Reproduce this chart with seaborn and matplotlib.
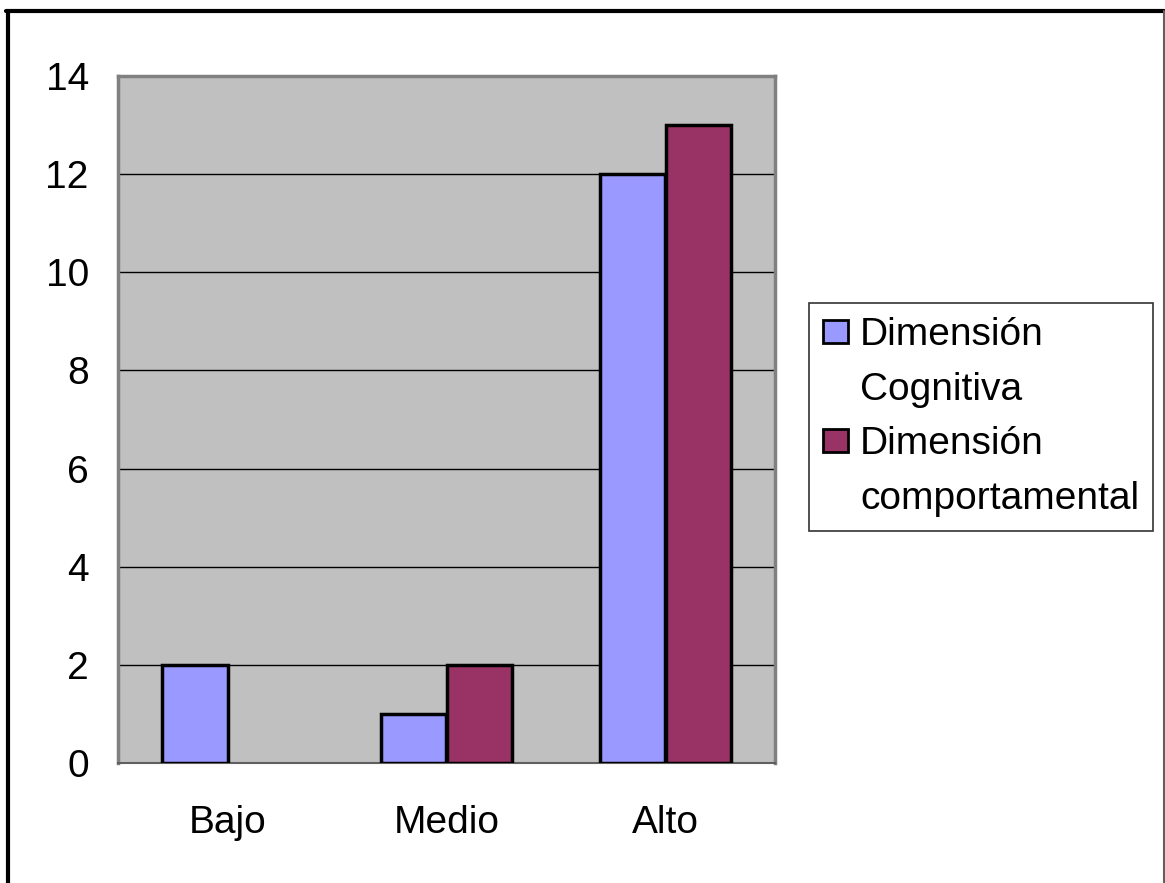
import pandas as pd
import matplotlib.pyplot as plt
import seaborn as sns
from matplotlib.lines import Line2D
from matplotlib.patches import Patch

# Datos del gráfico
niveles = ["Bajo", "Medio", "Alto"]
cognitiva = [2, 1, 12]
comportamental = [0, 2, 13]
series = ["Dimensión Cognitiva", "Dimensión comportamental"]
colores = ["#9999FF", "#993366"]

df = pd.DataFrame({
    "Nivel": niveles * 2,
    "Valor": cognitiva + comportamental,
    "Serie": [series[0]] * 3 + [series[1]] * 3,
})

sns.set_style("white")
plt.rcParams["font.family"] = ["Liberation Sans", "DejaVu Sans"]
plt.rcParams["text.color"] = "black"
plt.rcParams["xtick.color"] = "black"
plt.rcParams["ytick.color"] = "black"

fig = plt.figure(figsize=(11.65, 8.83), dpi=100)
ax = fig.add_axes([118 / 1165, 1 - 763 / 883, 657 / 1165, 687 / 883])

sns.barplot(
    data=df, x="Nivel", y="Valor", hue="Serie",
    palette=colores, width=0.6, edgecolor="black", linewidth=2.5,
    saturation=1, ax=ax, zorder=3, legend=False,
)

# ocultar barras de altura cero
for p in ax.patches:
    if p.get_height() == 0:
        p.set_visible(False)

ax.set_facecolor("#C0C0C0")
ax.set_ylim(0, 14)
ax.set_xlim(-0.5, 2.5)
ax.set_yticks(range(0, 15, 2))
ax.yaxis.grid(True, color="black", linewidth=1, zorder=1)
ax.set_axisbelow(True)
ax.set_xlabel("")
ax.set_ylabel("")

# marcas del eje x entre categorías
ax.set_xticks([0, 1, 2])
ax.set_xticks([-0.5, 0.5, 1.5, 2.5], minor=True)
ax.tick_params(axis="x", which="major", length=0, labelsize=28, pad=30)
ax.tick_params(axis="x", which="minor", length=12, width=1, color="#404040")
ax.tick_params(axis="y", length=12, width=1, color="#404040", labelsize=28, pad=9)

for s in ["left", "top", "right"]:
    ax.spines[s].set_color("#808080")
    ax.spines[s].set_linewidth(2.5)
ax.spines["bottom"].set_color("#606060")
ax.spines["bottom"].set_linewidth(1.5)

# leyenda: cada serie en dos renglones, el cuadro junto al primero
handles, labels = [], []
for c, s in zip(colores, series):
    primera, segunda = s.split(" ", 1)
    handles += [Patch(facecolor=c, edgecolor="black", linewidth=2),
                Patch(visible=False)]
    labels += [primera, segunda]
leg = ax.legend(
    handles, labels,
    loc="upper left", bbox_to_anchor=(809 / 1165, 1 - 303 / 883),
    bbox_transform=fig.transFigure, fontsize=28, frameon=True,
    fancybox=False, edgecolor="black", handlelength=0.65, handleheight=0.55,
    handletextpad=0.3, labelspacing=0.48, borderpad=0.36, borderaxespad=0,
)
leg.get_frame().set_linewidth(1.2)

# marco exterior
fig.add_artist(Line2D([7.5 / 1165, 7.5 / 1165], [0, 1 - 10.5 / 883],
                      transform=fig.transFigure, color="black", linewidth=3))
fig.add_artist(Line2D([6 / 1165, 1164 / 1165], [1 - 10.5 / 883, 1 - 10.5 / 883],
                      transform=fig.transFigure, color="black", linewidth=3))
fig.add_artist(Line2D([1164 / 1165, 1164 / 1165], [0, 1 - 10.5 / 883],
                      transform=fig.transFigure, color="#606060", linewidth=1.5))

fig.savefig("out.png", dpi=100)
